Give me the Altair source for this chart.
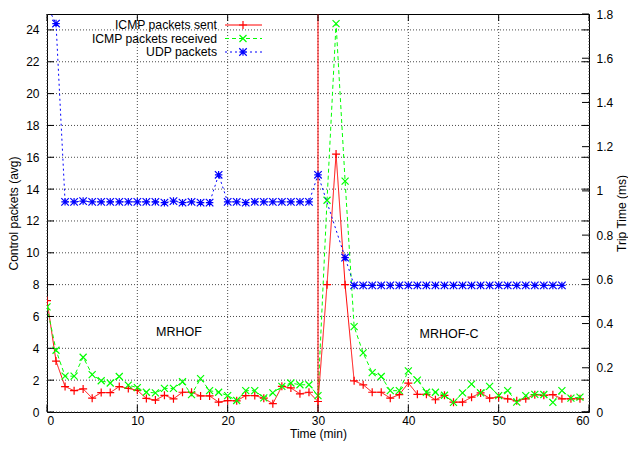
import altair as alt
import pandas as pd

# ---------------- data ----------------
minutes = list(range(60))
icmp_sent = [7.0, 3.2, 1.6, 1.34, 1.45, 0.87, 1.22, 1.22, 1.6, 1.48,
             1.36, 0.85, 0.75, 1.05, 0.83, 1.24, 1.24, 1.01, 1.01, 0.62,
             0.72, 0.7, 1.03, 1.03, 0.87, 0.52, 1.61, 1.51, 1.14, 1.24,
             0.66, 8.0, 16.2, 8.0, 1.96, 1.71, 1.24, 1.24, 0.87, 1.09,
             1.82, 1.11, 1.11, 0.77, 1.05, 0.62, 0.62, 0.93, 1.2, 0.87,
             0.93, 0.83, 0.7, 0.83, 1.09, 1.05, 1.09, 0.83, 0.83, 0.83]
icmp_received = [6.6, 3.88, 2.25, 2.25, 3.44, 2.35, 1.96, 1.82, 2.23, 1.69,
                 1.53, 1.24, 1.2, 1.48, 1.48, 1.9, 1.09, 2.1, 1.34, 1.24,
                 1.03, 0.72, 1.34, 1.34, 0.89, 1.2, 1.61, 1.82, 1.71, 1.71,
                 1.03, 13.3, 24.4, 14.5, 5.36, 3.71, 2.47, 2.23, 1.34, 1.34,
                 2.58, 2.0, 1.24, 1.24, 1.05, 0.6, 1.2, 1.75, 1.2, 1.61,
                 1.03, 1.34, 0.62, 1.03, 1.11, 1.1, 0.6, 1.34, 0.87, 0.93]
udp_minutes = [0, 1, 2, 3, 4, 5, 6, 7, 8, 9, 10, 11, 12, 13, 14, 15, 16, 17,
               18, 19, 20, 21, 22, 23, 24, 25, 26, 27, 28, 29, 30,
               33, 34, 35, 36, 37, 38, 39, 40, 41, 42, 43, 44, 45, 46, 47,
               48, 49, 50, 51, 52, 53, 54, 55, 56, 57]
udp_packets = [25.5, 24.4, 13.2, 13.2, 13.25, 13.2, 13.2, 13.2, 13.2, 13.2,
               13.2, 13.2, 13.2, 13.15, 13.25, 13.15, 13.2, 13.15, 13.15, 14.9,
               13.2, 13.2, 13.15, 13.2, 13.2, 13.2, 13.2, 13.2, 13.2, 13.2,
               14.9,
               9.7, 7.95, 7.95, 7.95, 7.95, 7.95, 7.95, 7.95, 7.95, 7.95, 7.95,
               7.95, 7.95, 7.95, 7.95, 7.95, 7.95, 7.95, 7.95, 7.95, 7.95, 7.95,
               7.95, 7.95, 7.95]
switch_minute = [30]
phase_labels = ["MRHOF", "MRHOF-C"]
phase_x = [14.6, 44.5]
phase_y = [5.0, 4.9]
legend_names = ["ICMP packets sent", "ICMP packets received", "UDP packets"]
x_ticks = [0, 10, 20, 30, 40, 50, 60]
y_ticks = [0, 2, 4, 6, 8, 10, 12, 14, 16, 18, 20, 22, 24]
y2_ticks = [0, 0.2, 0.4, 0.6, 0.8, 1.0, 1.2, 1.4, 1.6, 1.8]

# ---------------- style ----------------
W, H = 542, 398
FONT = "Liberation Sans"
FS = 12
TICK = 7
RED, GREEN, BLUE = "#ff0000", "#00ff00", "#0000ff"
GRID = "#4a4a4a"
PLUS = "M-1,0L1,0M0,-1L0,1"
CROSS = "M-1,-1L1,1M-1,1L1,-1"
STAR = PLUS + CROSS

sent_df = pd.DataFrame({"minute": minutes, "value": icmp_sent})
recv_df = pd.DataFrame({"minute": minutes, "value": icmp_received})
udp_df = pd.DataFrame({"minute": udp_minutes, "value": udp_packets})
switch_df = pd.DataFrame({"minute": switch_minute})
phase_df = pd.DataFrame({"minute": phase_x, "value": phase_y, "label": phase_labels})
xt_df = pd.DataFrame({"minute": x_ticks})
yt_df = pd.DataFrame({"value": y_ticks})
y2t_df = pd.DataFrame({"trip": y2_ticks})

X = alt.X("minute:Q", scale=alt.Scale(domain=[0, 60], nice=False, zero=False),
          axis=alt.Axis(values=x_ticks, title="Time (min)", grid=False,
                        ticks=False, domain=False, labelPadding=3,
                        titlePadding=2))
Y = alt.Y("value:Q", scale=alt.Scale(domain=[0, 25], nice=False),
          axis=alt.Axis(values=y_ticks, title="Control packets (avg)",
                        grid=False, ticks=False, domain=False, labelPadding=8,
                        titlePadding=5, orient="left"))

def series(df, color, dash, shape, size):
    line = alt.Chart(df).mark_line(color=color, strokeWidth=1, strokeDash=dash,
                                   clip=True).encode(x=X, y=Y)
    pts = alt.Chart(df).mark_point(shape=shape, filled=False, color=color,
                                   strokeWidth=1.2, size=size, opacity=1,
                                   clip=True).encode(x=X, y=Y)
    return [line, pts]

layers = []
# dotted grid
layers.append(alt.Chart(xt_df).mark_rule(color=GRID, strokeWidth=1, strokeDash=[1, 2])
              .encode(x=X, y=alt.value(0), y2=alt.value(H)))
layers.append(alt.Chart(yt_df).mark_rule(color=GRID, strokeWidth=1, strokeDash=[1, 2])
              .encode(y=Y, x=alt.value(0), x2=alt.value(W)))

layers += series(sent_df, RED, [1, 0], PLUS, 64)
layers += series(recv_df, GREEN, [4, 3], CROSS, 49)
layers.append(alt.Chart(switch_df).mark_rule(color=RED, strokeWidth=1).encode(
    x=X, y=alt.value(0), y2=alt.value(H)))
layers += series(udp_df, BLUE, [2, 3], STAR, 56)

layers.append(alt.Chart(phase_df).mark_text(font=FONT, fontSize=12.5, color="black",
                                            align="center", baseline="middle")
              .encode(x=X, y=Y, text="label:N"))

# inward ticks (gnuplot style)
layers.append(alt.Chart(xt_df).mark_rule(color="black").encode(
    x=X, y=alt.value(H), y2=alt.value(H - TICK)))
layers.append(alt.Chart(xt_df).mark_rule(color="black").encode(
    x=X, y=alt.value(0), y2=alt.value(TICK)))
layers.append(alt.Chart(yt_df).mark_rule(color="black").encode(
    y=Y, x=alt.value(0), x2=alt.value(TICK)))
layers.append(alt.Chart(yt_df).mark_rule(color="black").encode(
    y=Y, x=alt.value(W), x2=alt.value(W - TICK)))

# legend (gnuplot style: label then sample)
styles = [(RED, [1, 0], PLUS, 64), (GREEN, [4, 3], CROSS, 49), (BLUE, [2, 3], STAR, 56)]
for i, (name, (color, dash, shape, size)) in enumerate(zip(legend_names, styles)):
    ly = 11 + 13.5 * i
    ldf = pd.DataFrame({"name": [name]})
    layers.append(alt.Chart(ldf).mark_text(font=FONT, fontSize=12.2, align="right",
                                           baseline="middle", color="black")
                  .encode(x=alt.value(170), y=alt.value(ly), text="name:N"))
    layers.append(alt.Chart(ldf).mark_rule(color=color, strokeWidth=1, strokeDash=dash)
                  .encode(x=alt.value(178), x2=alt.value(215), y=alt.value(ly)))
    layers.append(alt.Chart(ldf).mark_point(shape=shape, filled=False, color=color,
                                            strokeWidth=1.2, size=size, opacity=1)
                  .encode(x=alt.value(196), y=alt.value(ly)))

left = alt.layer(*layers)

right = alt.Chart(y2t_df).mark_rule(color="black").encode(
    y=alt.Y("trip:Q", scale=alt.Scale(domain=[0, 1.8], nice=False),
            axis=alt.Axis(orient="right", values=y2_ticks, format=".1~f",
                          title="Trip Time (ms)", titleAngle=270,
                          titleBaseline="top", grid=False,
                          ticks=False, domain=False, labelPadding=7,
                          titlePadding=4)),
    x=alt.value(W - TICK), x2=alt.value(W))

chart = alt.layer(left, right).resolve_scale(y="independent").properties(
    width=W, height=H,
    background="white",
    autosize=alt.AutoSizeParams(type="none"),
    padding={"left": 39, "top": 6, "right": 39, "bottom": 29},
).configure_view(stroke="black", strokeWidth=1).configure_axis(
    labelFont=FONT, titleFont=FONT, labelFontSize=FS, titleFontSize=FS,
    labelColor="black", titleColor="black", titleFontWeight="normal",
)

chart.save("out.html", embed_options={"renderer": "svg", "actions": False})
